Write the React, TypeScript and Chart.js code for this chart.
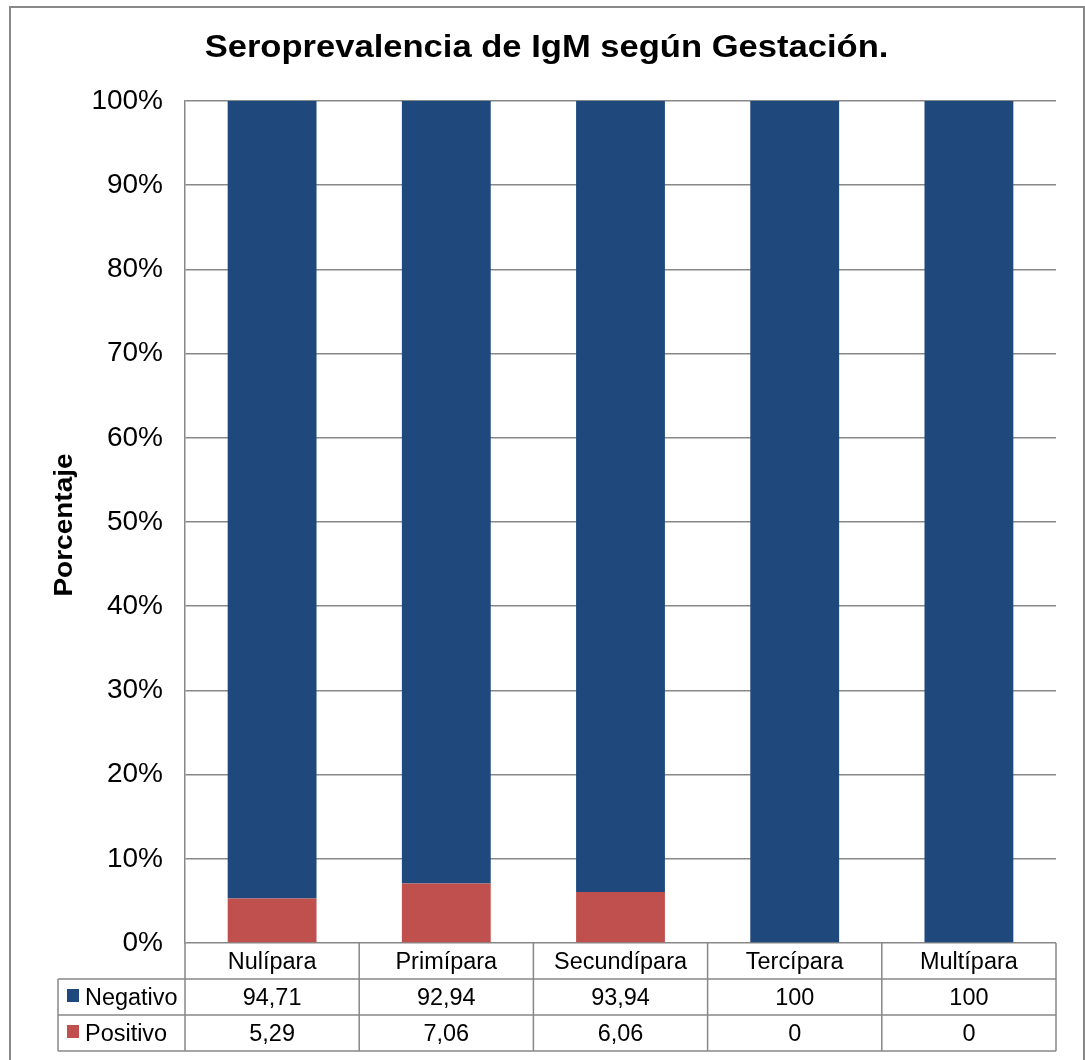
import React, { useEffect, useRef } from "react";
import { Chart, registerables } from "chart.js";

Chart.register(...registerables);

const title = "Seroprevalencia de IgM según Gestación.";
const yAxisTitle = "Porcentaje";
const categories = ["Nulípara", "Primípara", "Secundípara", "Tercípara", "Multípara"];
const seriesNames = ["Negativo", "Positivo"];
const negativo = [94.71, 92.94, 93.94, 100, 100];
const positivo = [5.29, 7.06, 6.06, 0, 0];
const yMin = 0;
const yMax = 100;
const yStep = 10;

const BLUE = "#1F497D";
const RED = "#C0504D";
const LINE = "#888888";
const FONT = '"Liberation Sans", Arial, sans-serif';

const fmt = (v: number) => String(v).replace(".", ",");

function stretchText(
  ctx: CanvasRenderingContext2D,
  text: string,
  x: number,
  y: number,
  font: string,
  sx: number,
  align: CanvasTextAlign
) {
  ctx.save();
  ctx.font = font;
  ctx.textAlign = align;
  ctx.textBaseline = "alphabetic";
  ctx.fillStyle = "#000";
  ctx.translate(x, y);
  ctx.scale(sx, 1);
  ctx.fillText(text, 0, 0);
  ctx.restore();
}

const framePlugin = {
  id: "framePlugin",
  beforeDraw(chart: any) {
    const ctx = chart.ctx as CanvasRenderingContext2D;
    ctx.save();
    ctx.fillStyle = "#fff";
    ctx.fillRect(0, 0, chart.width, chart.height);
    ctx.restore();
  },
  afterDraw(chart: any) {
    const ctx = chart.ctx as CanvasRenderingContext2D;
    const area = chart.chartArea;
    const xs = chart.scales.x;

    // title
    stretchText(ctx, title, chart.width / 2 + 4, 57, `bold 32px ${FONT}`, 1.08, "center");

    // y axis title
    ctx.save();
    ctx.translate(72, (area.top + area.bottom) / 2 + 3);
    ctx.rotate(-Math.PI / 2);
    ctx.scale(1.12, 1);
    ctx.font = `bold 25px ${FONT}`;
    ctx.textAlign = "center";
    ctx.textBaseline = "alphabetic";
    ctx.fillStyle = "#000";
    ctx.fillText(yAxisTitle, 0, 0);
    ctx.restore();

    // data table
    const rowH = 36;
    const top = area.bottom;
    const legendLeft = 58;
    const n = categories.length;
    const colW = (area.right - area.left) / n;
    const tableFont = `23px ${FONT}`;
    const sx = 1.02;

    ctx.save();
    ctx.strokeStyle = LINE;
    ctx.lineWidth = 1.5;
    ctx.beginPath();
    for (let r = 1; r <= 3; r++) {
      const y = top + r * rowH;
      ctx.moveTo(legendLeft, y);
      ctx.lineTo(area.right, y);
    }
    ctx.moveTo(legendLeft, top + rowH);
    ctx.lineTo(legendLeft, top + 3 * rowH);
    for (let i = 0; i <= n; i++) {
      const x = area.left + i * colW;
      ctx.moveTo(x, top);
      ctx.lineTo(x, top + 3 * rowH);
    }
    ctx.stroke();
    ctx.restore();

    categories.forEach((c, i) => {
      stretchText(ctx, c, xs.getPixelForValue(i), top + 26, tableFont, sx, "center");
    });
    const rows = [negativo, positivo];
    const colors = [BLUE, RED];
    rows.forEach((vals, r) => {
      const rowTop = top + (r + 1) * rowH;
      ctx.save();
      ctx.fillStyle = colors[r];
      ctx.fillRect(67, rowTop + 10, 12, 13);
      ctx.restore();
      stretchText(ctx, seriesNames[r], 85, rowTop + 26, tableFont, sx, "left");
      vals.forEach((v, i) => {
        stretchText(ctx, fmt(v), xs.getPixelForValue(i), rowTop + 26, tableFont, sx, "center");
      });
    });

    // outer frame
    ctx.save();
    ctx.strokeStyle = LINE;
    ctx.lineWidth = 2;
    ctx.strokeRect(10, 7, 1074, 1100);
    ctx.restore();
  },
};

export default function App() {
  const ref = useRef<HTMLCanvasElement | null>(null);

  useEffect(() => {
    if (!ref.current) return;
    const chart = new Chart(ref.current, {
      type: "bar",
      data: {
        labels: categories,
        datasets: [
          {
            label: seriesNames[1],
            data: positivo,
            backgroundColor: RED,
            borderWidth: 0,
            barPercentage: 0.51,
            categoryPercentage: 1,
          },
          {
            label: seriesNames[0],
            data: negativo,
            backgroundColor: BLUE,
            borderWidth: 0,
            barPercentage: 0.51,
            categoryPercentage: 1,
          },
        ],
      },
      options: {
        responsive: false,
        animation: false,
        layout: { padding: { left: 0, top: 101, right: 29, bottom: 117 } },
        plugins: {
          legend: { display: false },
          title: { display: false },
          tooltip: { enabled: false },
        },
        scales: {
          x: {
            stacked: true,
            display: false,
            grid: { display: false },
          },
          y: {
            stacked: true,
            min: yMin,
            max: yMax,
            ticks: {
              stepSize: yStep,
              callback: (v: any) => `${v}%`,
              color: "#000",
              font: { family: FONT, size: 28 },
              padding: 22,
            },
            grid: { color: LINE, lineWidth: 1.5, drawTicks: false },
            border: { color: LINE, width: 1.5 },
            afterFit: (s: any) => {
              s.width = 185;
            },
          },
        },
      },
      plugins: [framePlugin],
    });
    return () => chart.destroy();
  }, []);

  return (
    <div style={{ position: "absolute", left: 0, top: 0, width: 1085, height: 1060 }}>
      <canvas ref={ref} width={1085} height={1060} style={{ display: "block" }} />
    </div>
  );
}
